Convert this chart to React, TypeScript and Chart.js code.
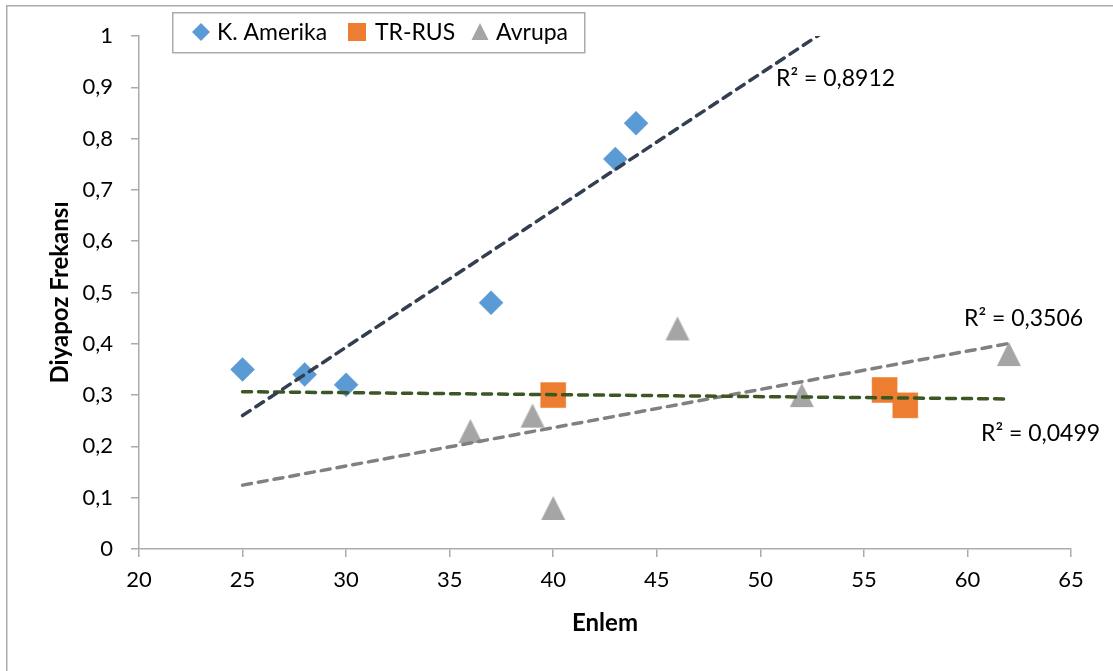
import React, { useEffect, useRef } from 'react';
import { Chart, registerables } from 'chart.js';

Chart.register(...registerables);

// ---- data ----
const seriesNames = ['K. Amerika', 'TR-RUS', 'Avrupa'];
const kAmerikaX = [25, 28, 30, 37, 43, 44];
const kAmerikaY = [0.35, 0.34, 0.32, 0.48, 0.76, 0.83];
const trRusX = [40, 56, 57];
const trRusY = [0.3, 0.31, 0.28];
const avrupaX = [36, 39, 40, 46, 52, 62];
const avrupaY = [0.23, 0.26, 0.08, 0.43, 0.3, 0.38];
const trendRange = [25, 62];
const r2Labels = ['R² = 0,8912', 'R² = 0,0499', 'R² = 0,3506'];
const xTickRange = [20, 65, 5];
const yTickRange = [0, 1, 0.1];

const FONT = 'Lato, "Open Sans", sans-serif';
const COLORS = ['#5B9BD5', '#ED7D31', '#A5A5A5'];
const TREND_COLORS = ['#333F50', '#3A5724', '#808080'];

function toPoints(xs: number[], ys: number[]) {
  return xs.map((x, i) => ({ x, y: ys[i] }));
}

function trend(xs: number[], ys: number[]) {
  const n = xs.length;
  const mx = xs.reduce((a, b) => a + b, 0) / n;
  const my = ys.reduce((a, b) => a + b, 0) / n;
  let sxy = 0;
  let sxx = 0;
  for (let i = 0; i < n; i++) {
    sxy += (xs[i] - mx) * (ys[i] - my);
    sxx += (xs[i] - mx) * (xs[i] - mx);
  }
  const b = sxy / sxx;
  const a = my - b * mx;
  return trendRange.map((x) => ({ x, y: a + b * x }));
}

function triangleImage(color: string) {
  const c = document.createElement('canvas');
  c.width = 26;
  c.height = 26;
  const ctx = c.getContext('2d')!;
  ctx.fillStyle = color;
  ctx.beginPath();
  ctx.moveTo(13, 1);
  ctx.lineTo(25, 25);
  ctx.lineTo(1, 25);
  ctx.closePath();
  ctx.fill();
  return c;
}

const fmt = (v: number) => String(Math.round(v * 10) / 10).replace('.', ',');

const frame = {
  id: 'frame',
  beforeDraw(chart: any) {
    const ctx = chart.ctx;
    ctx.save();
    ctx.fillStyle = '#ffffff';
    ctx.fillRect(0, 0, chart.width, chart.height);
    ctx.strokeStyle = '#ABABAB';
    ctx.lineWidth = 1.5;
    ctx.strokeRect(6.75, 5.75, chart.width + 50, chart.height + 50);
    ctx.restore();
  },
};

const labelsAndLegend = {
  id: 'labelsAndLegend',
  afterDraw(chart: any) {
    const ctx = chart.ctx;
    ctx.save();
    // R² labels
    const pos = [
      [776, 79],
      [981, 434],
      [964, 319],
    ];
    ctx.font = `23px ${FONT}`;
    ctx.fillStyle = '#000';
    ctx.textAlign = 'left';
    ctx.textBaseline = 'middle';
    r2Labels.forEach((t, i) => ctx.fillText(t, pos[i][0], pos[i][1]));

    // legend
    ctx.strokeStyle = '#ABABAB';
    ctx.lineWidth = 1.5;
    ctx.fillStyle = '#fff';
    ctx.fillRect(172, 12, 413, 41);
    ctx.strokeRect(172.75, 12.75, 412, 40);
    const cy = 32;
    const items = [
      { mx: 201, tx: 217 },
      { mx: 357, tx: 375 },
      { mx: 480, tx: 496 },
    ];
    items.forEach((it, i) => {
      ctx.fillStyle = COLORS[i];
      ctx.beginPath();
      if (i === 0) {
        const r = 9;
        ctx.moveTo(it.mx, cy - r);
        ctx.lineTo(it.mx + r, cy);
        ctx.lineTo(it.mx, cy + r);
        ctx.lineTo(it.mx - r, cy);
      } else if (i === 1) {
        ctx.rect(it.mx - 9, cy - 9, 18, 18);
      } else {
        ctx.moveTo(it.mx, cy - 9);
        ctx.lineTo(it.mx + 8.5, cy + 8);
        ctx.lineTo(it.mx - 8.5, cy + 8);
      }
      ctx.closePath();
      ctx.fill();
      ctx.fillStyle = '#000';
      ctx.font = `23px ${FONT}`;
      ctx.textBaseline = 'middle';
      ctx.fillText(seriesNames[i], it.tx, cy + 1);
    });
    ctx.restore();
  },
};

export default function App() {
  const ref = useRef<HTMLCanvasElement | null>(null);

  useEffect(() => {
    document.body.style.margin = '0';
    const canvas = ref.current;
    if (!canvas) return;
    const pointDatasets = [
      { xs: kAmerikaX, ys: kAmerikaY, style: 'rectRot' as any, radius: 12 },
      { xs: trRusX, ys: trRusY, style: 'rect' as any, radius: 17.7 },
      { xs: avrupaX, ys: avrupaY, style: triangleImage(COLORS[2]) as any, radius: 13 },
    ].map((d, i) => ({
      label: seriesNames[i],
      data: toPoints(d.xs, d.ys),
      pointStyle: d.style,
      pointRadius: d.radius,
      pointHoverRadius: d.radius,
      backgroundColor: COLORS[i],
      borderColor: COLORS[i],
      borderWidth: 0.5,
      showLine: false,
      order: 2,
    }));
    const trendDatasets = [
      trend(kAmerikaX, kAmerikaY),
      trend(trRusX, trRusY),
      trend(avrupaX, avrupaY),
    ].map((pts, i) => ({
      label: 'trend ' + seriesNames[i],
      data: pts,
      showLine: true,
      pointRadius: 0,
      borderColor: TREND_COLORS[i],
      backgroundColor: TREND_COLORS[i],
      borderWidth: 3.5,
      borderDash: [9, 7],
      borderCapStyle: 'round',
      fill: false,
      order: 1,
    }));

    const tickFont = { family: FONT, size: 22 };
    const titleFont = { family: FONT, size: 24, weight: 'bold' };

    const chart = new Chart(canvas, {
      type: 'scatter',
      data: { datasets: [...pointDatasets, ...trendDatasets] as any },
      options: {
        animation: false,
        responsive: false,
        devicePixelRatio: 1,
        layout: { padding: { left: 46, top: 36, right: 42, bottom: 33 } },
        plugins: {
          legend: { display: false },
          tooltip: { enabled: false },
        },
        scales: {
          x: {
            type: 'linear',
            min: xTickRange[0],
            max: xTickRange[1],
            ticks: {
              stepSize: xTickRange[2],
              color: '#000',
              font: tickFont,
              padding: 10,
              callback: (v: any) => fmt(Number(v)),
            },
            grid: {
              drawOnChartArea: false,
              drawTicks: true,
              tickLength: 8,
              color: '#ABABAB',
              lineWidth: 1.5,
            },
            border: { color: '#ABABAB', width: 1.5 },
            title: { display: true, text: 'Enlem', color: '#000', font: titleFont as any, padding: 0 },
            afterFit: (s: any) => {
              s.height = 89;
            },
          },
          y: {
            type: 'linear',
            min: yTickRange[0],
            max: yTickRange[1],
            ticks: {
              stepSize: yTickRange[2],
              color: '#000',
              font: tickFont,
              padding: 18,
              callback: (v: any) => fmt(Number(v)),
            },
            grid: {
              drawOnChartArea: false,
              drawTicks: true,
              tickLength: 8,
              color: '#ABABAB',
              lineWidth: 1.5,
            },
            border: { color: '#ABABAB', width: 1.5 },
            title: { display: true, text: 'Diyapoz Frekansı', color: '#000', font: titleFont as any, padding: 0 },
            afterFit: (s: any) => {
              s.width = 93;
            },
          },
        },
      },
      plugins: [frame, labelsAndLegend],
    } as any);
    return () => chart.destroy();
  }, []);

  return (
    <div style={{ position: 'fixed', left: 0, top: 0, width: 1113, height: 671, background: '#fff' }}>
      <canvas ref={ref} width={1113} height={671} style={{ display: 'block' }} />
    </div>
  );
}
